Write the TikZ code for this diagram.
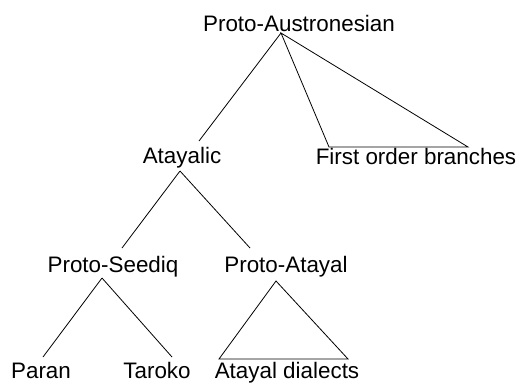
\documentclass[tikz,border=0pt]{standalone}
\usepackage{fontspec}
\setmainfont{Liberation Sans}
\begin{document}
\begin{tikzpicture}[x=1pt,y=-1pt,
  lbl/.style={inner sep=0pt, anchor=base, font=\fontsize{22.4}{27}\selectfont},
  edge/.style={line width=0.8pt, black}]
\useasboundingbox (0,0) rectangle (521,383);
% labels
\node[lbl] (pan) at (299,31) {Proto-Austronesian};
\node[lbl] (ata) at (182,163) {Atayalic};
\node[lbl] (fob) at (416,164) {First order branches};
\node[lbl] (psq) at (113,272) {Proto-Seediq};
\node[lbl] (pat) at (286,272) {Proto-Atayal};
\node[lbl] (par) at (41,378) {Paran};
\node[lbl] (tar) at (157,378) {Taroko};
\node[lbl] (adi) at (287,378) {Atayal dialects};
% connector ends
\coordinate (panB) at (281,33);
\coordinate (ataT) at (199,141);
\coordinate (ataB) at (180,171);
\coordinate (fobL) at (329,147);
\coordinate (fobR) at (468,147);
\coordinate (psqT) at (122,248);
\coordinate (psqB) at (102,278);
\coordinate (patT) at (250,248);
\coordinate (patB) at (276,281);
\coordinate (parT) at (43,357);
\coordinate (tarT) at (172,357);
\coordinate (adiL) at (219,359);
\coordinate (adiR) at (348,359);
% connectors
\draw[edge] (panB) -- (ataT);
\draw[edge] (panB) -- (fobL) -- (fobR) -- cycle;
\draw[edge] (ataB) -- (psqT);
\draw[edge] (ataB) -- (patT);
\draw[edge] (psqB) -- (parT);
\draw[edge] (psqB) -- (tarT);
\draw[edge] (patB) -- (adiL) -- (adiR) -- cycle;
\end{tikzpicture}
\end{document}
